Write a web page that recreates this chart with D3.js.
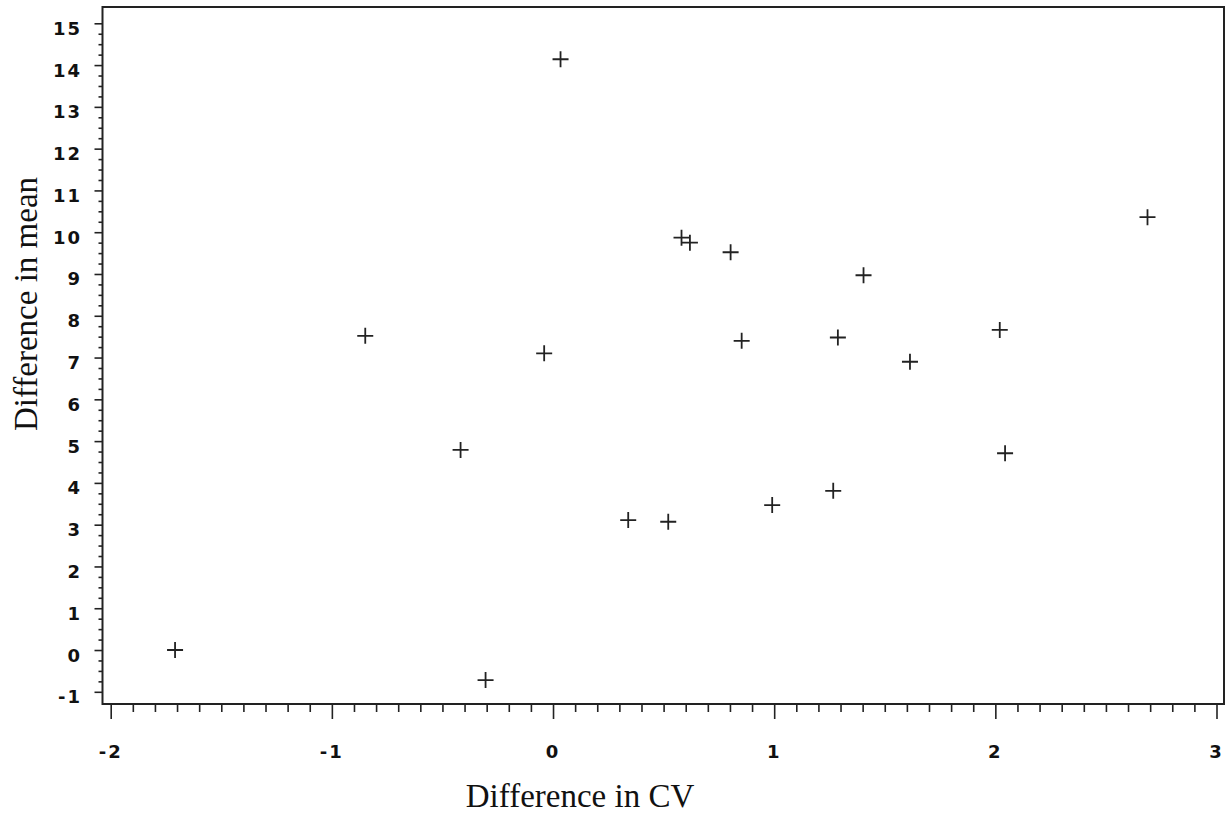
<!DOCTYPE html>
<html>
<head>
<meta charset="utf-8">
<script src="https://cdn.jsdelivr.net/npm/d3@7/dist/d3.min.js"></script>
<style>
  body { margin: 0; background: #fff; }
  .tick-label { font-family: "DejaVu Sans", sans-serif; font-weight: bold; font-size: 18px; fill: #111; }
  .axis-title { font-family: "Liberation Serif", "Times New Roman", serif; font-size: 33px; fill: #111; }
</style>
</head>
<body>
<svg></svg>
<script>
// difference in CV (x) and difference in mean (y), one entry per subject
var cvDiff = [-1.709, -0.849, -0.418, -0.305, -0.040, 0.034, 0.340, 0.521, 0.581, 0.619,
              0.803, 0.853, 0.991, 1.267, 1.288, 1.404, 1.614, 2.020, 2.044, 2.688];
var meanDiff = [0.00, 7.52, 4.79, -0.72, 7.10, 14.14, 3.11, 3.07, 9.87, 9.75,
                9.52, 7.40, 3.47, 3.81, 7.48, 8.97, 6.90, 7.66, 4.71, 10.36];
var xTicks = [-2, -1, 0, 1, 2, 3];
var yTicks = [-1, 0, 1, 2, 3, 4, 5, 6, 7, 8, 9, 10, 11, 12, 13, 14, 15];

var canvasWidth = 1231;
var canvasHeight = 815;
var svg = d3.select('svg')
  .attr('width', canvasWidth)
  .attr('height', canvasHeight);

// scales: tick values sit a little inside the frame
var xScale = d3.scaleLinear().domain([-2, 3]).range([110.7, 1216.5]);
var yScale = d3.scaleLinear().domain([-1, 15]).range([691.8, 23.3]);

var frame = { left: 102.5, right: 1224, top: 7, bottom: 704 };

// minor tick positions
var xMinor = d3.range(-20, 31).map(function(d) { return d / 10; })
  .filter(function(d) { return xTicks.indexOf(d) < 0; });
var yMinor = d3.range(-4, 61).map(function(d) { return d / 4; })
  .filter(function(d) { return yTicks.indexOf(d) < 0; });

// X axis: major + minor ticks hanging below the frame
var xAxisG = svg.append('g')
  .attr('transform', 'translate(0,' + frame.bottom + ')');
xAxisG.append('g')
  .call(d3.axisBottom(xScale).tickValues(xTicks).tickSize(15).tickFormat(''))
  .call(function(g) { g.select('.domain').remove(); });
xAxisG.append('g')
  .call(d3.axisBottom(xScale).tickValues(xMinor).tickSize(8).tickFormat(''))
  .call(function(g) { g.select('.domain').remove(); });
xAxisG.selectAll('line').attr('stroke', '#222').attr('stroke-width', 1.6);

svg.selectAll('.x-label')
  .data(xTicks)
  .enter().append('text')
  .attr('class', 'tick-label')
  .attr('x', function(d) { return xScale(d); })
  .attr('y', 758)
  .attr('text-anchor', 'middle')
  .style('letter-spacing', '2px')
  .text(function(d) { return d < 0 ? '-' + Math.abs(d) : d; });

// Y axis
var yAxisG = svg.append('g')
  .attr('transform', 'translate(' + frame.left + ',0)');
yAxisG.append('g')
  .call(d3.axisLeft(yScale).tickValues(yTicks).tickSize(8).tickFormat(''))
  .call(function(g) { g.select('.domain').remove(); });
yAxisG.append('g')
  .call(d3.axisLeft(yScale).tickValues(yMinor).tickSize(4).tickFormat(''))
  .call(function(g) { g.select('.domain').remove(); });
yAxisG.selectAll('line').attr('stroke', '#222').attr('stroke-width', 1.6);

svg.selectAll('.y-label')
  .data(yTicks)
  .enter().append('text')
  .attr('class', 'tick-label')
  .attr('x', 82)
  .attr('y', function(d) { return yScale(d) + 11.5; })
  .attr('text-anchor', 'end')
  .style('letter-spacing', '2px')
  .text(function(d) { return d < 0 ? '-' + Math.abs(d) : d; });

// frame
svg.append('rect')
  .attr('x', frame.left)
  .attr('y', frame.top)
  .attr('width', frame.right - frame.left)
  .attr('height', frame.bottom - frame.top)
  .attr('fill', 'none')
  .attr('stroke', '#222')
  .attr('stroke-width', 2);

// plus markers
svg.selectAll('.dot')
  .data(cvDiff)
  .enter().append('path')
  .attr('class', 'dot')
  .attr('transform', function(d, i) {
    return 'translate(' + xScale(d) + ',' + yScale(meanDiff[i]) + ')';
  })
  .attr('d', 'M-8,0H8M0,-8V8')
  .attr('stroke', '#222')
  .attr('stroke-width', 1.8)
  .attr('fill', 'none');

// axis titles
svg.append('text')
  .attr('class', 'axis-title')
  .attr('x', 580)
  .attr('y', 807)
  .attr('text-anchor', 'middle')
  .text('Difference in CV');

svg.append('text')
  .attr('class', 'axis-title')
  .attr('transform', 'translate(37,304) rotate(-90)')
  .attr('text-anchor', 'middle')
  .text('Difference in mean');
</script>
</body>
</html>
